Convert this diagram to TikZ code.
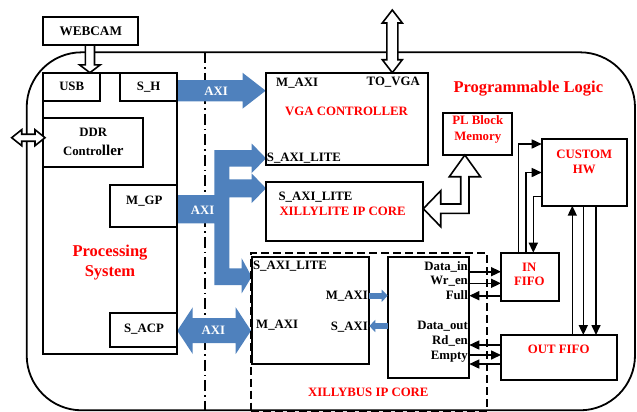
\documentclass[tikz,border=0pt]{standalone}
\usepackage{fontspec}
\setmainfont{Liberation Serif}
\usetikzlibrary{arrows.meta,calc}
\definecolor{axiblue}{RGB}{79,129,189}
\definecolor{lblred}{RGB}{255,0,0}
\begin{document}
\begin{tikzpicture}[x=1bp,y=-1bp,
  box/.style={draw, line width=1.8bp, inner sep=0pt, outer sep=0pt, anchor=north west},
  lbl/.style={inner sep=0pt, font=\fontsize{12.8bp}{14bp}\selectfont\bfseries, text height=8.4bp, text depth=0pt},
  redlbl/.style={lbl, text=lblred},
  biglbl/.style={inner sep=0pt, font=\fontsize{16.5bp}{18bp}\selectfont\bfseries, text height=10.9bp, text depth=0pt, text=lblred},
  axilbl/.style={lbl, text=white},
  conn/.style={line width=1.6bp, -{Triangle[length=10bp,width=9bp]}},
  hollow/.style={draw, line width=1.6bp, fill=white, line join=miter},
  bluearrow/.style={fill=axiblue, draw=none},
  smallblue/.style={draw=axiblue, line width=6bp, -{Triangle[length=6bp,width=12bp]}}
]
\useasboundingbox (0,0) rectangle (637,411);

% outer programmable logic boundary
\draw[line width=1.8bp, rounded corners=55bp] (26.7,52.3) rectangle (635,410.3);
% PS / PL separation
\draw[line width=1.3bp, dash pattern=on 11bp off 4bp on 1.5bp off 4bp] (205,52.3) -- (205,411);

% blue AXI arrows
\fill[bluearrow] (177.3,80) -- (242.5,80) -- (242.5,72.7) -- (265.7,90.7) -- (242.5,108.7)
  -- (242.5,101.4) -- (177.3,101.4) -- cycle;
\fill[bluearrow] (177.3,195) -- (214.3,195) -- (214.3,150) -- (251.7,150) -- (251.7,143.5)
  -- (266,158.3) -- (251.7,173) -- (251.7,166.7) -- (229.3,166.7) -- (229.3,179.3)
  -- (251.7,179.3) -- (251.7,173.5) -- (266,188.3) -- (251.7,203) -- (251.7,197.3)
  -- (229.3,197.3) -- (229.3,268.3) -- (241.7,268.3) -- (241.7,258.3) -- (251.7,276.7)
  -- (241.7,293.3) -- (241.7,285) -- (214.3,285) -- (214.3,223.3) -- (177.3,223.3) -- cycle;
\fill[bluearrow] (177.3,330.7) -- (192.7,307.3) -- (192.7,318.2) -- (235.7,318.2) -- (235.7,307.3)
  -- (251,330.7) -- (235.7,354) -- (235.7,343.2) -- (192.7,343.2) -- (192.7,354) -- cycle;

% boxes
\node[box, minimum width=95bp, minimum height=28.3bp] (webcam) at (43.3,16.7) {};
\node[box, minimum width=134bp, minimum height=281.6bp] (ps) at (43.3,72.7) {};
\node[box, minimum width=56.7bp, minimum height=28bp] (usb) at (43.3,72.7) {};
\node[box, minimum width=57.3bp, minimum height=28bp] (sh) at (120,72.7) {};
\node[box, minimum width=100bp, minimum height=48.4bp] (ddr) at (43.3,118.3) {};
\node[box, minimum width=67.3bp, minimum height=41.7bp] (mgp) at (110,185) {};
\node[box, minimum width=67.3bp, minimum height=34bp] (sacp) at (110,313.3) {};
\node[box, minimum width=162.6bp, minimum height=92.3bp] (vga) at (265.7,72.7) {};
\node[box, minimum width=157.3bp, minimum height=59bp] (xlite) at (266,181.7) {};
\node[box, minimum width=69bp, minimum height=42.3bp] (plbm) at (443.3,112.7) {};
\node[box, minimum width=85.3bp, minimum height=66.7bp] (chw) at (541.7,139) {};
\node[box, minimum width=58bp, minimum height=48bp] (infifo) at (501,252.7) {};
\node[box, minimum width=115.7bp, minimum height=45bp] (outfifo) at (501,335) {};
\node[box, dash pattern=on 8bp off 4bp, minimum width=236bp, minimum height=158bp] (xbus) at (250.7,252.7) {};
\node[box, minimum width=117.3bp, minimum height=107.6bp] (xbl) at (252,256.7) {};
\node[box, minimum width=81.6bp, minimum height=121.6bp] (xbr) at (387.7,256.7) {};

% hollow arrows
\draw[hollow] (85.3,45) -- (94.5,45) -- (94.5,64.8) -- (100.3,64.8) -- (89.9,72.7)
  -- (79.5,64.8) -- (85.3,64.8) -- cycle;
\draw[hollow] (11.7,137.7) -- (21.7,129.7) -- (21.7,134.2) -- (35,134.2) -- (35,129.7)
  -- (45,137.7) -- (35,145.7) -- (35,141.2) -- (21.7,141.2) -- (21.7,145.7) -- cycle;
\draw[hollow] (392.3,10) -- (402.3,23) -- (397.8,23) -- (397.8,59.7) -- (402.3,59.7)
  -- (392.3,72.7) -- (382.3,59.7) -- (386.8,59.7) -- (386.8,23) -- (382.3,23) -- cycle;
\draw[hollow] (423.3,208.7) -- (440.7,190.7) -- (440.7,204) -- (460.7,204) -- (460.7,176.7)
  -- (449.3,176.7) -- (464.85,155) -- (480.4,176.7) -- (469,176.7) -- (469,213.3)
  -- (440.7,213.3) -- (440.7,226.7) -- cycle;

% small blue arrows inside Xillybus
\draw[smallblue] ($(xbl.north east)+(0,39)$) -- ($(xbr.north west)+(0,39)$);
\draw[smallblue] ($(xbr.north west)+(0,69.3)$) -- ($(xbl.north east)+(0,69.3)$);

% FIFO / custom HW connectors
\draw[conn] ($(infifo.north west)+(17.3,0)$) |- ($(chw.north west)+(0,5)$);
\draw[conn] ($(infifo.north west)+(25,0)$) |- ($(chw.north west)+(0,33.5)$);
\draw[conn] ($(chw.north west)+(0,57.5)$) -| ($(infifo.north west)+(32.3,0)$);
\draw[conn] ($(outfifo.north west)+(71.3,0)$) -- ($(chw.south west)+(30.6,0)$);
\draw[conn] ($(chw.south west)+(41.6,0)$) -- ($(outfifo.north west)+(82.3,0)$);
\draw[conn] ($(chw.south west)+(54.3,0)$) -- ($(outfifo.north west)+(95,0)$);

\draw[conn] ($(xbr.north east)+(0,15)$) -- ($(infifo.north west)+(0,19)$);
\draw[conn] ($(xbr.north east)+(0,26.6)$) -- ($(infifo.north west)+(0,30.6)$);
\draw[conn] ($(infifo.north west)+(0,43)$) -- ($(xbr.north east)+(0,39)$);
\draw[conn] ($(outfifo.north west)+(0,10)$) -- ($(xbr.north east)+(0,88.3)$);
\draw[conn] ($(xbr.north east)+(0,98.3)$) -- ($(outfifo.north west)+(0,20)$);
\draw[conn] ($(outfifo.north west)+(0,29)$) -- ($(xbr.north east)+(0,107.3)$);

% texts
\node[lbl, font=\fontsize{13.2bp}{14bp}\selectfont\bfseries] (twebcam) at (90.8,31) {WEBCAM};
\node[lbl] (tusb) at (71.7,86.7) {USB};
\node[lbl] (tsh) at (148.7,86.7) {S\_H};
\node[lbl] (tddr1) at (93.3,132.7) {DDR};
\node[lbl] (tddr2) at (93.3,151.7) {Contro{\fontsize{15bp}{16bp}\selectfont ller}};
\node[lbl] (tmgp) at (144.3,200) {M\_GP};
\node[lbl] (tsacp) at (144,328.3) {S\_ACP};
\node[biglbl] (tps1) at (110,250.7) {Processing};
\node[biglbl] (tps2) at (110,270.7) {System};
\node[biglbl] (tpl) at (528.3,86.7) {Programmable Logic};

\node[lbl, anchor=west] (tvga1) at (276,82) {M\_AXI};
\node[lbl, anchor=east] (tvga2) at (420,81.7) {TO\_VGA};
\node[redlbl] (tvga3) at (346.5,111) {VGA CONTROLLER};
\node[lbl, anchor=west] (tvga4) at (266.7,157.3) {S\_AXI\_LITE};

\node[lbl, anchor=west] (txl1) at (278.3,196.7) {S\_AXI\_LITE};
\node[redlbl, anchor=west] (txl2) at (279.3,211) {XILLYLITE IP CORE};

\node[redlbl] (tpl1) at (477.7,120) {PL Block};
\node[redlbl] (tpl2) at (477.7,136.7) {Memory};
\node[redlbl] (tchw1) at (584.3,154) {CUSTOM};
\node[redlbl] (tchw2) at (584.3,169.3) {HW};
\node[redlbl] (tin1) at (529.3,267.7) {IN};
\node[redlbl] (tin2) at (529.3,281.7) {FIFO};
\node[redlbl] (tout) at (558.7,349) {OUT FIFO};
\node[redlbl] (txbus) at (368.3,392.7) {XILLYBUS IP CORE};

\node[lbl, anchor=west] (txb1) at (252.8,265) {S\_AXI\_LITE};
\node[lbl, anchor=west] (txb2) at (256,324) {M\_AXI};
\node[lbl, anchor=east] (txb3) at (368,295.7) {M\_AXI};
\node[lbl, anchor=east] (txb4) at (368,326) {S\_AXI};

\node[lbl, anchor=east] (tdi) at (468,266) {Data\_in};
\node[lbl, anchor=east] (twr) at (468,280.7) {Wr\_en};
\node[lbl, anchor=east] (tfull) at (468,295.7) {Full};
\node[lbl, anchor=east] (tdo) at (468,325) {Data\_out};
\node[lbl, anchor=east] (trd) at (468,340) {Rd\_en};
\node[lbl, anchor=east] (tempty) at (468,355) {Empty};

\node[axilbl] (taxi1) at (216,91.5) {AXI};
\node[axilbl] (taxi2) at (202.5,210.5) {AXI};
\node[axilbl] (taxi3) at (213.3,330.7) {AXI};
\end{tikzpicture}
\end{document}
